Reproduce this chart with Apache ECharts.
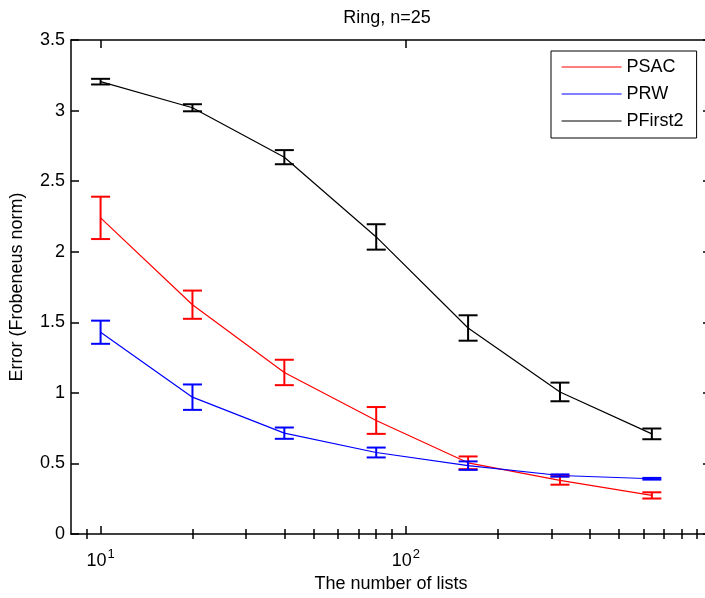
<!DOCTYPE html>
<html>
<head>
<meta charset="utf-8">
<script src="https://cdn.jsdelivr.net/npm/echarts@6/dist/echarts.min.js"></script>
<style>
  html, body { margin: 0; padding: 0; overflow: hidden; background: #fff; }
  /* canvas a little wider than the window: the plot box is cut off at the right, as in the source */
  #chart { width: 720px; height: 598px; }
</style>
</head>
<body>
<div id="chart"></div>
<script>
// number of lists (x, log scale)
const lists = [10, 20, 40, 80, 160, 320, 640];

// mean error and error-bar half height per method
const psacMean = [2.24, 1.625, 1.145, 0.805, 0.505, 0.38, 0.274];
const psacErr = [0.15, 0.10, 0.09, 0.095, 0.045, 0.03, 0.022];
const prwMean = [1.43, 0.97, 0.715, 0.578, 0.485, 0.415, 0.392];
const prwErr = [0.082, 0.09, 0.04, 0.035, 0.03, 0.008, 0.006];
const pfMean = [3.205, 3.02, 2.67, 2.105, 1.46, 1.007, 0.71];
const pfErr = [0.02, 0.025, 0.05, 0.09, 0.09, 0.066, 0.038];

// axis ticks
const majorTicks = [10, 100, 1000];
const labelTicks = [10, 100];
const minorTicks = [9, 20, 30, 40, 50, 60, 70, 80, 90, 200, 300, 400, 500, 600, 700, 800, 900];

const FONT = 'Liberation Sans, Arial, sans-serif';

const chart = echarts.init(document.getElementById('chart'));

const pairs = (ys) => lists.map((x, i) => [x, ys[i]]);
const triples = (ys, es) => lists.map((x, i) => [x, ys[i], es[i]]);

const lineSeries = (name, color, ys) => ({
  name: name,
  type: 'line',
  data: pairs(ys),
  symbol: 'none',
  lineStyle: { color: color, width: 1.2 },
  itemStyle: { color: color },
  animation: false,
  z: 3
});

const errSeries = (name, color, ys, es) => ({
  name: name,
  type: 'custom',
  coordinateSystem: 'cartesian2d',
  data: triples(ys, es),
  encode: { x: 0, y: 1 },
  animation: false,
  z: 4,
  renderItem: function (params, api) {
    const x = api.value(0);
    const m = api.value(1);
    const e = api.value(2);
    const top = api.coord([x, m + e]);
    const bot = api.coord([x, m - e]);
    const w = 9.5;
    const style = { stroke: color, lineWidth: 2 };
    return {
      type: 'group',
      children: [
        { type: 'line', shape: { x1: top[0], y1: top[1], x2: bot[0], y2: bot[1] }, style: style },
        { type: 'line', shape: { x1: top[0] - w, y1: top[1], x2: top[0] + w, y2: top[1] }, style: style },
        { type: 'line', shape: { x1: bot[0] - w, y1: bot[1], x2: bot[0] + w, y2: bot[1] }, style: style }
      ]
    };
  }
});

const baseX = {
  type: 'log',
  logBase: 10,
  min: 8,
  max: 1000,
  gridIndex: 0,
  splitLine: { show: false },
  axisLine: { show: true, onZero: false, lineStyle: { color: '#000', width: 1.5 } }
};

const option = {
  backgroundColor: '#fff',
  animation: false,
  title: {
    text: 'Ring, n=25',
    left: 387,
    textAlign: 'center',
    top: 9,
    padding: 0,
    textStyle: { fontFamily: FONT, fontSize: 18, fontWeight: 'normal', color: '#000' }
  },
  legend: {
    data: ['PSAC', 'PRW', 'PFirst2'],
    orient: 'vertical',
    left: 551,
    top: 51,
    itemWidth: 60,
    itemHeight: 18,
    itemGap: 9,
    padding: [7, 13, 8, 10],
    borderColor: '#000',
    borderWidth: 1,
    backgroundColor: '#fff',
    itemStyle: { opacity: 0 },
    lineStyle: { width: 1.2 },
    textStyle: { fontFamily: FONT, fontSize: 18, color: '#000' }
  },
  grid: { left: 71, top: 40, right: 9, bottom: 58, containLabel: false },
  xAxis: [
    Object.assign({}, baseX, {
      position: 'bottom',
      axisTick: { show: true, inside: true, length: 8, customValues: majorTicks, lineStyle: { color: '#000', width: 1.5 } },
      axisLabel: {
        show: true,
        customValues: labelTicks,
        margin: 14,
        formatter: function (v) {
          return '{b|10}{s|' + Math.round(Math.log10(v)) + '}';
        },
        rich: {
          b: { fontFamily: FONT, fontSize: 18, color: '#000', verticalAlign: 'bottom' },
          s: { fontFamily: FONT, fontSize: 13, color: '#000', verticalAlign: 'bottom', padding: [0, 0, 9, 1] }
        }
      },
      name: 'The number of lists',
      nameLocation: 'middle',
      nameGap: 39,
      nameTextStyle: { fontFamily: FONT, fontSize: 18, color: '#000' }
    }),
    Object.assign({}, baseX, {
      position: 'bottom',
      axisLine: { show: false },
      axisTick: { show: true, inside: true, length: 5, customValues: minorTicks, lineStyle: { color: '#000', width: 1.5 } },
      axisLabel: { show: false }
    }),
    Object.assign({}, baseX, {
      position: 'top',
      axisTick: { show: true, inside: true, length: 8, customValues: majorTicks, lineStyle: { color: '#000', width: 1.5 } },
      axisLabel: { show: false }
    }),
    Object.assign({}, baseX, {
      position: 'top',
      axisLine: { show: false },
      axisTick: { show: true, inside: true, length: 5, customValues: minorTicks, lineStyle: { color: '#000', width: 1.5 } },
      axisLabel: { show: false }
    })
  ],
  yAxis: [
    {
      type: 'value',
      position: 'left',
      min: 0,
      max: 3.5,
      interval: 0.5,
      splitLine: { show: false },
      axisLine: { show: true, onZero: false, lineStyle: { color: '#000', width: 1.5 } },
      axisTick: { show: true, inside: true, length: 8, lineStyle: { color: '#000', width: 1.5 } },
      axisLabel: { fontFamily: FONT, fontSize: 18, color: '#000', margin: 6 },
      name: 'Error (Frobeneus norm)',
      nameLocation: 'middle',
      nameGap: 45,
      nameTextStyle: { fontFamily: FONT, fontSize: 18, color: '#000' }
    },
    {
      type: 'value',
      position: 'right',
      min: 0,
      max: 3.5,
      interval: 0.5,
      splitLine: { show: false },
      axisLine: { show: true, onZero: false, lineStyle: { color: '#000', width: 1.5 } },
      axisTick: { show: true, inside: true, length: 8, lineStyle: { color: '#000', width: 1.5 } },
      axisLabel: { show: false }
    }
  ],
  series: [
    lineSeries('PSAC', '#ff0000', psacMean),
    lineSeries('PRW', '#0000ff', prwMean),
    lineSeries('PFirst2', '#000000', pfMean),
    errSeries('PSAC err', '#ff0000', psacMean, psacErr),
    errSeries('PRW err', '#0000ff', prwMean, prwErr),
    errSeries('PFirst2 err', '#000000', pfMean, pfErr)
  ]
};

chart.setOption(option);
</script>
</body>
</html>
